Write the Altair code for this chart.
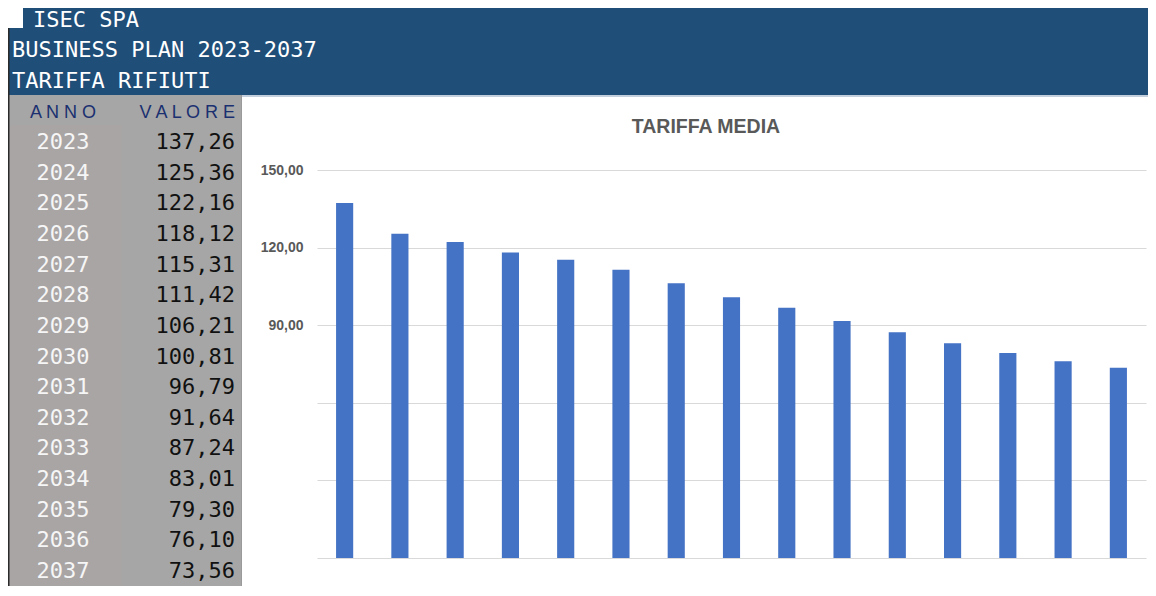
import altair as alt
import pandas as pd

# ---- data ----
anni = ["2023", "2024", "2025", "2026", "2027", "2028", "2029", "2030",
        "2031", "2032", "2033", "2034", "2035", "2036", "2037"]
valori = [137.26, 125.36, 122.16, 118.12, 115.31, 111.42, 106.21, 100.81,
          96.79, 91.64, 87.24, 83.01, 79.30, 76.10, 73.56]
header_lines = ["ISEC SPA", "BUSINESS PLAN 2023-2037", "TARIFFA RIFIUTI"]
col_headers = ["A N N O", "V A L O R E"]
chart_title = "TARIFFA MEDIA"
y_ticks = [0, 30, 60, 90, 120, 150]

df = pd.DataFrame({
    "anno": anni,
    "valore": valori,
    "label": [f"{v:.2f}".replace(".", ",") for v in valori],
})
one = pd.DataFrame({"k": [0]})

HDR_BLUE = "#1F4E79"
GRAY = "#A6A6A6"
GRAY2 = "#A9A5A5"
MONO = "DejaVu Sans Mono"

def rect(x, x2, y, y2, color):
    return alt.Chart(one).mark_rect(color=color).encode(
        x=alt.value(x), x2=alt.value(x2), y=alt.value(y), y2=alt.value(y2))

def txt(s, x, y, size, color, font=MONO, align="left", weight="normal", baseline="alphabetic"):
    return alt.Chart(one).mark_text(
        text=s, fontSize=size, color=color, font=font, align=align,
        fontWeight=weight, baseline=baseline).encode(x=alt.value(x), y=alt.value(y))

# backgrounds (coordinates relative to plot origin at page (317,170))
bg = [
    rect(-294, 845, -170, -138, HDR_BLUE),
    rect(-320, 845, -142, -75, HDR_BLUE),
    rect(-320, -76, -75, 430, GRAY),
    rect(-320, -195, -45, 430, GRAY2),
    rect(-309, -307.5, -142, 430, "#2b2b2b"),
    rect(-76, -75, -75, 430, "#9a9a9a"),
    rect(-75, 845, -75, -73, "#C3CFDD"),
]

texts = [
    txt(header_lines[0], -284, -143, 22, "white"),
    txt(header_lines[1], -305, -113, 22, "white"),
    txt(header_lines[2], -305, -82, 22, "white"),
    txt(col_headers[0], -254, -52, 18, "#1A3070", font="Liberation Sans", align="center"),
    txt(col_headers[1], -82, -52, 18, "#1A3070", font="Liberation Sans", align="right"),
    txt(chart_title, 389, -37, 19.5, "#595959", font="Liberation Sans", align="center", weight="bold"),
]

row_y = alt.Y("anno:O", scale=alt.Scale(type="point", domain=anni, range=[-28, 401], padding=0), axis=None)
years_txt = alt.Chart(df).mark_text(font=MONO, fontSize=22, color="#F6F6F6", align="center",
                                    baseline="middle").encode(
    x=alt.value(-254), y=row_y, text="anno:N")
vals_txt = alt.Chart(df).mark_text(font=MONO, fontSize=22, color="#111111", align="right",
                                   baseline="middle").encode(
    x=alt.value(-82), y=row_y, text="label:N")

bars = alt.Chart(df).mark_bar(color="#4472C4").encode(
    x=alt.X("anno:O", scale=alt.Scale(paddingInner=0.69, paddingOuter=0.345), axis=None),
    y=alt.Y("valore:Q", scale=alt.Scale(domain=[0, 150], nice=False),
            axis=alt.Axis(values=y_ticks, title=None, domain=False, ticks=False,
                          grid=True, gridColor="#D9D9D9", gridWidth=1,
                          labelExpr="datum.value >= 90 ? replace(format(datum.value, '.2f'), '.', ',') : ''",
                          labelFont="Liberation Sans", labelFontSize=14, labelFontWeight="bold",
                          labelColor="#595959", labelPadding=14)),
)

chart = alt.layer(*bg, *texts, years_txt, vals_txt, bars).resolve_scale(
    y="independent"
).properties(
    width=829, height=388,
    autosize=alt.AutoSizeParams(type="none"),
    padding={"left": 309, "top": 162, "right": 2, "bottom": 28},
    background="white",
).configure_view(stroke=None)

chart.save("out.html", embed_options={"renderer": "svg", "actions": False})
